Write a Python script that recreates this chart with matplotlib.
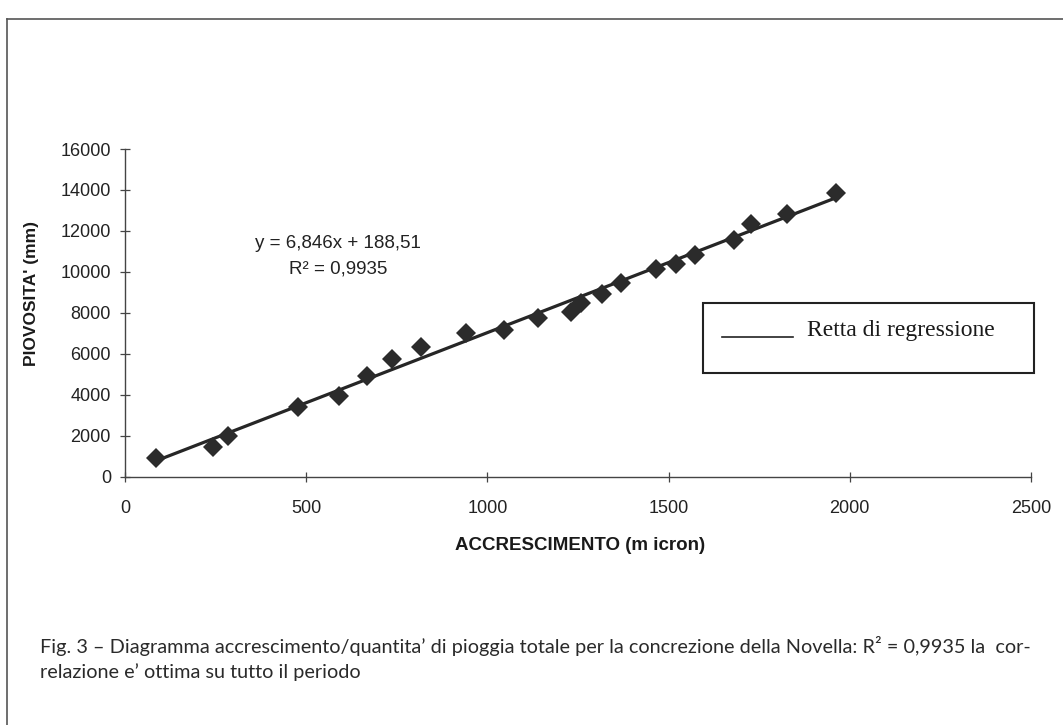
import matplotlib
matplotlib.use("Agg")
import matplotlib.pyplot as plt
from matplotlib.patches import Rectangle
from matplotlib.lines import Line2D

# ---- data ----
accrescimento = [86, 244, 285, 477, 590, 667, 736, 816, 940, 1047, 1139, 1230,
                 1259, 1315, 1369, 1465, 1520, 1573, 1681, 1727, 1826, 1962]
piovosita = [898, 1465, 1987, 3389, 3955, 4932, 5762, 6348, 7002, 7163, 7734, 8057,
             8467, 8921, 9443, 10127, 10386, 10825, 11558, 12324, 12827, 13838]
slope = 6.846
intercept = 188.51
r2_text = "0,9935"
x_ticks = [0, 500, 1000, 1500, 2000, 2500]
y_ticks = [0, 2000, 4000, 6000, 8000, 10000, 12000, 14000, 16000]
x_label = "ACCRESCIMENTO (m icron)"
y_label = "PIOVOSITA' (mm)"
legend_label = "Retta di regressione"
caption_lines = [
    "Fig. 3 \u2013 Diagramma accrescimento/quantita\u2019 di pioggia totale per la concrezione della Novella: R\u00b2 = 0,9935 la  cor-",
    "relazione e\u2019 ottima su tutto il periodo",
]

W, H = 1063, 725
fig = plt.figure(figsize=(W / 100, H / 100), dpi=100)
fig.patch.set_facecolor("white")

def fx(px):
    return px / W

def fy(py):
    return 1 - py / H

ax = fig.add_axes([fx(125), fy(476.7), fx(1031) - fx(125), fy(149) - fy(476.7)])
ax.set_xlim(0, 2500)
ax.set_ylim(0, 16000)

dark = "#262626"
xs = [min(accrescimento), max(accrescimento)]
ax.plot(xs, [slope * v + intercept for v in xs], color=dark, lw=2.3, zorder=2)
ax.plot(accrescimento, piovosita, linestyle="none", marker="D", ms=10,
        color="#2b2b2b", markeredgewidth=0, zorder=3)

for s in ["top", "right"]:
    ax.spines[s].set_visible(False)
for s in ["left", "bottom"]:
    ax.spines[s].set_color("#444444")
    ax.spines[s].set_linewidth(1.0)

ax.set_xticks(x_ticks)
ax.set_yticks(y_ticks)
ax.set_xticklabels([str(v) for v in x_ticks])
ax.set_yticklabels([str(v) for v in y_ticks])
ax.tick_params(axis="both", direction="inout", length=7.2, width=0.9, color="#444444",
               labelsize=13, labelcolor="#222222")
ax.tick_params(axis="y", pad=6.5)
ax.tick_params(axis="x", pad=13)
for lab in ax.get_xticklabels() + ax.get_yticklabels():
    lab.set_family(["Liberation Sans", "DejaVu Sans"])

fig.text(fx(580), fy(546), x_label, ha="center", va="center", fontsize=13.5,
         fontweight="bold", family=["Liberation Sans", "DejaVu Sans"], color="#1a1a1a")
fig.text(fx(32), fy(294), y_label, ha="center", va="center", rotation=90, fontsize=12.5,
         fontweight="bold", family=["Liberation Sans", "DejaVu Sans"], color="#1a1a1a")

# equation annotation
fig.text(fx(338), fy(243), "y = 6,846x + 188,51", ha="center", va="center",
         fontsize=13.5, family=["Liberation Sans", "DejaVu Sans"], color="#222222")
fig.text(fx(338), fy(269), "R\u00b2 = " + r2_text, ha="center", va="center",
         fontsize=13.5, family=["Liberation Sans", "DejaVu Sans"], color="#222222")

# legend box
fig.patches.append(Rectangle((fx(703), fy(373)), fx(1034) - fx(703), fy(303) - fy(373),
                             transform=fig.transFigure, fill=False, edgecolor="#222222",
                             linewidth=1.5))
fig.lines.append(Line2D([fx(722), fx(793)], [fy(337), fy(337)], transform=fig.transFigure,
                        color="#222222", linewidth=1.2))
fig.text(fx(807), fy(336), legend_label, ha="left", va="baseline", fontsize=17,
         family=["Liberation Serif", "DejaVu Serif"], color="#1a1a1a")

# outer frame (top and left edges)
fig.lines.append(Line2D([fx(7), fx(1063)], [fy(19), fy(19)], transform=fig.transFigure,
                        color="#555555", linewidth=1.2))
fig.lines.append(Line2D([fx(7), fx(7)], [fy(19), fy(725)], transform=fig.transFigure,
                        color="#555555", linewidth=1.2))

# caption
for i, line in enumerate(caption_lines):
    fig.text(fx(40), fy(653 + 25 * i), line, ha="left", va="baseline", fontsize=14.3,
             family=["Lato", "DejaVu Sans"], fontweight="normal", color="#2a2a2a")

fig.savefig("out.png", dpi=100, facecolor="white")
